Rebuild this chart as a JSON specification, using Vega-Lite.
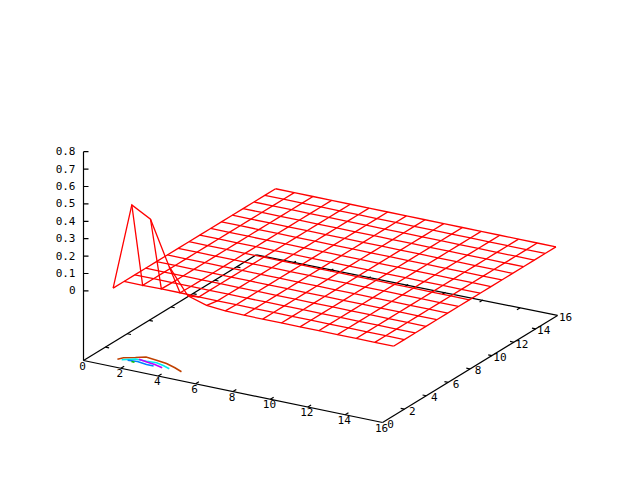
{"$schema":"https://vega.github.io/schema/vega-lite/v6.json","width":640,"height":480,"padding":0,"autosize":{"type":"none"},"background":"white","config":{"view":{"stroke":null}},
"datasets":{
"surface":[
{"x":1,"y":1,"z":0},{"x":2,"y":1,"z":0.5},{"x":3,"y":1,"z":0.44},{"x":4,"y":1,"z":0.19},{"x":5,"y":1,"z":0.045},{"x":6,"y":1,"z":0.012},{"x":7,"y":1,"z":0.003},{"x":8,"y":1,"z":0},{"x":9,"y":1,"z":0},{"x":10,"y":1,"z":0},{"x":11,"y":1,"z":0},{"x":12,"y":1,"z":0},{"x":13,"y":1,"z":0},{"x":14,"y":1,"z":0},{"x":15,"y":1,"z":0},{"x":16,"y":1,"z":0},
{"x":1,"y":1.99,"z":0},{"x":2,"y":1.99,"z":0},{"x":3,"y":1.99,"z":0.002},{"x":4,"y":1.99,"z":0.002},{"x":5,"y":1.99,"z":0},{"x":6,"y":1.99,"z":0},{"x":7,"y":1.99,"z":0},{"x":8,"y":1.99,"z":0},{"x":9,"y":1.99,"z":0},{"x":10,"y":1.99,"z":0},{"x":11,"y":1.99,"z":0},{"x":12,"y":1.99,"z":0},{"x":13,"y":1.99,"z":0},{"x":14,"y":1.99,"z":0},{"x":15,"y":1.99,"z":0},{"x":16,"y":1.99,"z":0},
{"x":1,"y":2.98,"z":0},{"x":2,"y":2.98,"z":0},{"x":3,"y":2.98,"z":0},{"x":4,"y":2.98,"z":0},{"x":5,"y":2.98,"z":0},{"x":6,"y":2.98,"z":0},{"x":7,"y":2.98,"z":0},{"x":8,"y":2.98,"z":0},{"x":9,"y":2.98,"z":0},{"x":10,"y":2.98,"z":0},{"x":11,"y":2.98,"z":0},{"x":12,"y":2.98,"z":0},{"x":13,"y":2.98,"z":0},{"x":14,"y":2.98,"z":0},{"x":15,"y":2.98,"z":0},{"x":16,"y":2.98,"z":0},
{"x":1,"y":3.97,"z":0},{"x":2,"y":3.97,"z":0},{"x":3,"y":3.97,"z":0},{"x":4,"y":3.97,"z":0},{"x":5,"y":3.97,"z":0},{"x":6,"y":3.97,"z":0},{"x":7,"y":3.97,"z":0},{"x":8,"y":3.97,"z":0},{"x":9,"y":3.97,"z":0},{"x":10,"y":3.97,"z":0},{"x":11,"y":3.97,"z":0},{"x":12,"y":3.97,"z":0},{"x":13,"y":3.97,"z":0},{"x":14,"y":3.97,"z":0},{"x":15,"y":3.97,"z":0},{"x":16,"y":3.97,"z":0},
{"x":1,"y":4.96,"z":0},{"x":2,"y":4.96,"z":0},{"x":3,"y":4.96,"z":0},{"x":4,"y":4.96,"z":0},{"x":5,"y":4.96,"z":0},{"x":6,"y":4.96,"z":0},{"x":7,"y":4.96,"z":0},{"x":8,"y":4.96,"z":0},{"x":9,"y":4.96,"z":0},{"x":10,"y":4.96,"z":0},{"x":11,"y":4.96,"z":0},{"x":12,"y":4.96,"z":0},{"x":13,"y":4.96,"z":0},{"x":14,"y":4.96,"z":0},{"x":15,"y":4.96,"z":0},{"x":16,"y":4.96,"z":0},
{"x":1,"y":5.95,"z":0},{"x":2,"y":5.95,"z":0},{"x":3,"y":5.95,"z":0},{"x":4,"y":5.95,"z":0},{"x":5,"y":5.95,"z":0},{"x":6,"y":5.95,"z":0},{"x":7,"y":5.95,"z":0},{"x":8,"y":5.95,"z":0},{"x":9,"y":5.95,"z":0},{"x":10,"y":5.95,"z":0},{"x":11,"y":5.95,"z":0},{"x":12,"y":5.95,"z":0},{"x":13,"y":5.95,"z":0},{"x":14,"y":5.95,"z":0},{"x":15,"y":5.95,"z":0},{"x":16,"y":5.95,"z":0},
{"x":1,"y":6.94,"z":0},{"x":2,"y":6.94,"z":0},{"x":3,"y":6.94,"z":0},{"x":4,"y":6.94,"z":0},{"x":5,"y":6.94,"z":0},{"x":6,"y":6.94,"z":0},{"x":7,"y":6.94,"z":0},{"x":8,"y":6.94,"z":0},{"x":9,"y":6.94,"z":0},{"x":10,"y":6.94,"z":0},{"x":11,"y":6.94,"z":0},{"x":12,"y":6.94,"z":0},{"x":13,"y":6.94,"z":0},{"x":14,"y":6.94,"z":0},{"x":15,"y":6.94,"z":0},{"x":16,"y":6.94,"z":0},
{"x":1,"y":7.93,"z":0},{"x":2,"y":7.93,"z":0},{"x":3,"y":7.93,"z":0},{"x":4,"y":7.93,"z":0},{"x":5,"y":7.93,"z":0},{"x":6,"y":7.93,"z":0},{"x":7,"y":7.93,"z":0},{"x":8,"y":7.93,"z":0},{"x":9,"y":7.93,"z":0},{"x":10,"y":7.93,"z":0},{"x":11,"y":7.93,"z":0},{"x":12,"y":7.93,"z":0},{"x":13,"y":7.93,"z":0},{"x":14,"y":7.93,"z":0},{"x":15,"y":7.93,"z":0},{"x":16,"y":7.93,"z":0},
{"x":1,"y":8.92,"z":0},{"x":2,"y":8.92,"z":0},{"x":3,"y":8.92,"z":0},{"x":4,"y":8.92,"z":0},{"x":5,"y":8.92,"z":0},{"x":6,"y":8.92,"z":0},{"x":7,"y":8.92,"z":0},{"x":8,"y":8.92,"z":0},{"x":9,"y":8.92,"z":0},{"x":10,"y":8.92,"z":0},{"x":11,"y":8.92,"z":0},{"x":12,"y":8.92,"z":0},{"x":13,"y":8.92,"z":0},{"x":14,"y":8.92,"z":0},{"x":15,"y":8.92,"z":0},{"x":16,"y":8.92,"z":0},
{"x":1,"y":9.91,"z":0},{"x":2,"y":9.91,"z":0},{"x":3,"y":9.91,"z":0},{"x":4,"y":9.91,"z":0},{"x":5,"y":9.91,"z":0},{"x":6,"y":9.91,"z":0},{"x":7,"y":9.91,"z":0},{"x":8,"y":9.91,"z":0},{"x":9,"y":9.91,"z":0},{"x":10,"y":9.91,"z":0},{"x":11,"y":9.91,"z":0},{"x":12,"y":9.91,"z":0},{"x":13,"y":9.91,"z":0},{"x":14,"y":9.91,"z":0},{"x":15,"y":9.91,"z":0},{"x":16,"y":9.91,"z":0},
{"x":1,"y":10.9,"z":0},{"x":2,"y":10.9,"z":0},{"x":3,"y":10.9,"z":0},{"x":4,"y":10.9,"z":0},{"x":5,"y":10.9,"z":0},{"x":6,"y":10.9,"z":0},{"x":7,"y":10.9,"z":0},{"x":8,"y":10.9,"z":0},{"x":9,"y":10.9,"z":0},{"x":10,"y":10.9,"z":0},{"x":11,"y":10.9,"z":0},{"x":12,"y":10.9,"z":0},{"x":13,"y":10.9,"z":0},{"x":14,"y":10.9,"z":0},{"x":15,"y":10.9,"z":0},{"x":16,"y":10.9,"z":0},
{"x":1,"y":11.89,"z":0},{"x":2,"y":11.89,"z":0},{"x":3,"y":11.89,"z":0},{"x":4,"y":11.89,"z":0},{"x":5,"y":11.89,"z":0},{"x":6,"y":11.89,"z":0},{"x":7,"y":11.89,"z":0},{"x":8,"y":11.89,"z":0},{"x":9,"y":11.89,"z":0},{"x":10,"y":11.89,"z":0},{"x":11,"y":11.89,"z":0},{"x":12,"y":11.89,"z":0},{"x":13,"y":11.89,"z":0},{"x":14,"y":11.89,"z":0},{"x":15,"y":11.89,"z":0},{"x":16,"y":11.89,"z":0},
{"x":1,"y":12.88,"z":0},{"x":2,"y":12.88,"z":0},{"x":3,"y":12.88,"z":0},{"x":4,"y":12.88,"z":0},{"x":5,"y":12.88,"z":0},{"x":6,"y":12.88,"z":0},{"x":7,"y":12.88,"z":0},{"x":8,"y":12.88,"z":0},{"x":9,"y":12.88,"z":0},{"x":10,"y":12.88,"z":0},{"x":11,"y":12.88,"z":0},{"x":12,"y":12.88,"z":0},{"x":13,"y":12.88,"z":0},{"x":14,"y":12.88,"z":0},{"x":15,"y":12.88,"z":0},{"x":16,"y":12.88,"z":0},
{"x":1,"y":13.87,"z":0},{"x":2,"y":13.87,"z":0},{"x":3,"y":13.87,"z":0},{"x":4,"y":13.87,"z":0},{"x":5,"y":13.87,"z":0},{"x":6,"y":13.87,"z":0},{"x":7,"y":13.87,"z":0},{"x":8,"y":13.87,"z":0},{"x":9,"y":13.87,"z":0},{"x":10,"y":13.87,"z":0},{"x":11,"y":13.87,"z":0},{"x":12,"y":13.87,"z":0},{"x":13,"y":13.87,"z":0},{"x":14,"y":13.87,"z":0},{"x":15,"y":13.87,"z":0},{"x":16,"y":13.87,"z":0},
{"x":1,"y":14.86,"z":0},{"x":2,"y":14.86,"z":0},{"x":3,"y":14.86,"z":0},{"x":4,"y":14.86,"z":0},{"x":5,"y":14.86,"z":0},{"x":6,"y":14.86,"z":0},{"x":7,"y":14.86,"z":0},{"x":8,"y":14.86,"z":0},{"x":9,"y":14.86,"z":0},{"x":10,"y":14.86,"z":0},{"x":11,"y":14.86,"z":0},{"x":12,"y":14.86,"z":0},{"x":13,"y":14.86,"z":0},{"x":14,"y":14.86,"z":0},{"x":15,"y":14.86,"z":0},{"x":16,"y":14.86,"z":0},
{"x":1,"y":15.85,"z":0},{"x":2,"y":15.85,"z":0},{"x":3,"y":15.85,"z":0},{"x":4,"y":15.85,"z":0},{"x":5,"y":15.85,"z":0},{"x":6,"y":15.85,"z":0},{"x":7,"y":15.85,"z":0},{"x":8,"y":15.85,"z":0},{"x":9,"y":15.85,"z":0},{"x":10,"y":15.85,"z":0},{"x":11,"y":15.85,"z":0},{"x":12,"y":15.85,"z":0},{"x":13,"y":15.85,"z":0},{"x":14,"y":15.85,"z":0},{"x":15,"y":15.85,"z":0},{"x":16,"y":15.85,"z":0}
],
"contours":[
{"level":"a","k":0,"x":1.27,"y":0.93},{"level":"a","k":1,"x":1.42,"y":1.23},{"level":"a","k":2,"x":1.88,"y":1.54},{"level":"a","k":3,"x":2.27,"y":1.84},{"level":"a","k":4,"x":2.9,"y":1.72},{"level":"a","k":5,"x":3.51,"y":1.59},{"level":"a","k":6,"x":4.13,"y":1.3},{"level":"a","k":7,"x":4.65,"y":1.01},
{"level":"b","k":0,"x":1.48,"y":0.96},{"level":"b","k":1,"x":1.98,"y":1.37},{"level":"b","k":2,"x":2.56,"y":1.38},{"level":"b","k":3,"x":3.07,"y":1.43},{"level":"b","k":4,"x":3.51,"y":1.29},{"level":"b","k":5,"x":3.97,"y":1.06},
{"level":"c","k":0,"x":2.14,"y":1.43},{"level":"c","k":1,"x":2.67,"y":1.29},{"level":"c","k":2,"x":3.11,"y":1.2},{"level":"c","k":3,"x":3.62,"y":1.01},
{"level":"d","k":0,"x":1.75,"y":1.04},{"level":"d","k":1,"x":2.22,"y":1.14},{"level":"d","k":2,"x":2.78,"y":1.01},{"level":"d","k":3,"x":3.16,"y":1.01},
{"level":"e","k":0,"x":1.98,"y":1.0},{"level":"e","k":1,"x":2.15,"y":0.99}
],
"frame":[
{"x":0,"y":0,"z":-0.4,"x2":16,"y2":0,"z2":-0.4},{"x":16,"y":0,"z":-0.4,"x2":16,"y2":16,"z2":-0.4},{"x":16,"y":16,"z":-0.4,"x2":0,"y2":15.8,"z2":-0.4},{"x":0,"y":15.8,"z":-0.4,"x2":0,"y2":0,"z2":-0.4},{"x":0,"y":0,"z":-0.4,"x2":0,"y2":0,"z2":0.8},
{"x":2,"y":0,"z":-0.4,"x2":2,"y2":0.3,"z2":-0.4},{"x":4,"y":0,"z":-0.4,"x2":4,"y2":0.3,"z2":-0.4},{"x":6,"y":0,"z":-0.4,"x2":6,"y2":0.3,"z2":-0.4},{"x":8,"y":0,"z":-0.4,"x2":8,"y2":0.3,"z2":-0.4},{"x":10,"y":0,"z":-0.4,"x2":10,"y2":0.3,"z2":-0.4},{"x":12,"y":0,"z":-0.4,"x2":12,"y2":0.3,"z2":-0.4},{"x":14,"y":0,"z":-0.4,"x2":14,"y2":0.3,"z2":-0.4},
{"x":2,"y":16,"z":-0.4,"x2":2,"y2":15.7,"z2":-0.4},{"x":4,"y":16,"z":-0.4,"x2":4,"y2":15.7,"z2":-0.4},{"x":6,"y":16,"z":-0.4,"x2":6,"y2":15.7,"z2":-0.4},{"x":8,"y":16,"z":-0.4,"x2":8,"y2":15.7,"z2":-0.4},{"x":10,"y":16,"z":-0.4,"x2":10,"y2":15.7,"z2":-0.4},{"x":12,"y":16,"z":-0.4,"x2":12,"y2":15.7,"z2":-0.4},{"x":14,"y":16,"z":-0.4,"x2":14,"y2":15.7,"z2":-0.4},
{"x":0,"y":2,"z":-0.4,"x2":0.2,"y2":2,"z2":-0.4},{"x":0,"y":4,"z":-0.4,"x2":0.2,"y2":4,"z2":-0.4},{"x":0,"y":6,"z":-0.4,"x2":0.2,"y2":6,"z2":-0.4},{"x":0,"y":8,"z":-0.4,"x2":0.2,"y2":8,"z2":-0.4},{"x":0,"y":10,"z":-0.4,"x2":0.2,"y2":10,"z2":-0.4},{"x":0,"y":12,"z":-0.4,"x2":0.2,"y2":12,"z2":-0.4},{"x":0,"y":14,"z":-0.4,"x2":0.2,"y2":14,"z2":-0.4},
{"x":16,"y":2,"z":-0.4,"x2":15.8,"y2":2,"z2":-0.4},{"x":16,"y":4,"z":-0.4,"x2":15.8,"y2":4,"z2":-0.4},{"x":16,"y":6,"z":-0.4,"x2":15.8,"y2":6,"z2":-0.4},{"x":16,"y":8,"z":-0.4,"x2":15.8,"y2":8,"z2":-0.4},{"x":16,"y":10,"z":-0.4,"x2":15.8,"y2":10,"z2":-0.4},{"x":16,"y":12,"z":-0.4,"x2":15.8,"y2":12,"z2":-0.4},{"x":16,"y":14,"z":-0.4,"x2":15.8,"y2":14,"z2":-0.4},
{"x":0,"y":0,"z":0,"x2":0.2,"y2":0.116,"z2":0},{"x":0,"y":0,"z":0.1,"x2":0.2,"y2":0.116,"z2":0.1},{"x":0,"y":0,"z":0.2,"x2":0.2,"y2":0.116,"z2":0.2},{"x":0,"y":0,"z":0.3,"x2":0.2,"y2":0.116,"z2":0.3},{"x":0,"y":0,"z":0.4,"x2":0.2,"y2":0.116,"z2":0.4},{"x":0,"y":0,"z":0.5,"x2":0.2,"y2":0.116,"z2":0.5},{"x":0,"y":0,"z":0.6,"x2":0.2,"y2":0.116,"z2":0.6},{"x":0,"y":0,"z":0.7,"x2":0.2,"y2":0.116,"z2":0.7},{"x":0,"y":0,"z":0.8,"x2":0.2,"y2":0.116,"z2":0.8}
],
"xlabels":[{"t":"0","x":0},{"t":"2","x":2},{"t":"4","x":4},{"t":"6","x":6},{"t":"8","x":8},{"t":"10","x":10},{"t":"12","x":12},{"t":"14","x":14},{"t":"16","x":16}],
"ylabels":[{"t":"0","y":0},{"t":"2","y":2},{"t":"4","y":4},{"t":"6","y":6},{"t":"8","y":8},{"t":"10","y":10},{"t":"12","y":12},{"t":"14","y":14},{"t":"16","y":16}],
"zlabels":[{"t":"0","z":0},{"t":"0.1","z":0.1},{"t":"0.2","z":0.2},{"t":"0.3","z":0.3},{"t":"0.4","z":0.4},{"t":"0.5","z":0.5},{"t":"0.6","z":0.6},{"t":"0.7","z":0.7},{"t":"0.8","z":0.8}]
},
"encoding":{
"x":{"field":"sx","type":"quantitative","scale":{"domain":[-0.5,639.5],"nice":false,"zero":false},"axis":null},
"y":{"field":"sy","type":"quantitative","scale":{"domain":[479.5,-0.5],"nice":false,"zero":false},"axis":null}
},
"layer":[
{"data":{"name":"frame"},"transform":[
{"calculate":"83+18.69*datum.x+10.94*datum.y","as":"sx"},{"calculate":"360+3.875*datum.x-6.69*datum.y-174*(datum.z+0.4)","as":"sy"},
{"calculate":"83+18.69*datum.x2+10.94*datum.y2","as":"sx2"},{"calculate":"360+3.875*datum.x2-6.69*datum.y2-174*(datum.z2+0.4)","as":"sy2"}],
"mark":{"type":"rule","color":"black","strokeWidth":1.2},
"encoding":{"x2":{"field":"sx2"},"y2":{"field":"sy2"}}},
{"data":{"name":"contours"},"transform":[
{"calculate":"83+18.69*datum.x+10.94*datum.y","as":"sx"},{"calculate":"360+3.875*datum.x-6.69*datum.y","as":"sy"}],
"mark":{"type":"line","strokeWidth":1.6},
"encoding":{"detail":{"field":"level"},"order":{"field":"k"},"color":{"field":"level","type":"nominal","legend":null,"scale":{"domain":["a","b","c","d","e"],"range":["#C04000","#00EEEE","#C000FF","#0080FF","#00C000"]}}}},
{"data":{"name":"surface"},"transform":[
{"calculate":"83+18.69*datum.x+10.94*datum.y","as":"sx"},{"calculate":"360+3.875*datum.x-6.69*datum.y-174*(datum.z+0.4)","as":"sy"}],
"mark":{"type":"line","color":"#FF0000","strokeWidth":1.3},
"encoding":{"detail":{"field":"y"},"order":{"field":"x"}}},
{"data":{"name":"surface"},"transform":[
{"calculate":"83+18.69*datum.x+10.94*datum.y","as":"sx"},{"calculate":"360+3.875*datum.x-6.69*datum.y-174*(datum.z+0.4)","as":"sy"}],
"mark":{"type":"line","color":"#FF0000","strokeWidth":1.3},
"encoding":{"detail":{"field":"x"},"order":{"field":"y"}}},
{"data":{"name":"xlabels"},"transform":[{"calculate":"83+18.69*datum.x","as":"sx"},{"calculate":"360+3.875*datum.x","as":"sy"}],
"mark":{"type":"text","font":"DejaVu Sans Mono","fontSize":11,"color":"black","align":"center","baseline":"middle","dx":-1,"dy":6},
"encoding":{"text":{"field":"t"}}},
{"data":{"name":"ylabels"},"transform":[{"calculate":"382+10.94*datum.y","as":"sx"},{"calculate":"422-6.69*datum.y","as":"sy"}],
"mark":{"type":"text","font":"DejaVu Sans Mono","fontSize":11,"color":"black","align":"center","baseline":"middle","dx":8,"dy":2.5},
"encoding":{"text":{"field":"t"}}},
{"data":{"name":"zlabels"},"transform":[{"calculate":"83","as":"sx"},{"calculate":"360-174*(datum.z+0.4)","as":"sy"}],
"mark":{"type":"text","font":"DejaVu Sans Mono","fontSize":11,"color":"black","align":"right","baseline":"middle","dx":-8,"dy":0.5},
"encoding":{"text":{"field":"t"}}}
]}
